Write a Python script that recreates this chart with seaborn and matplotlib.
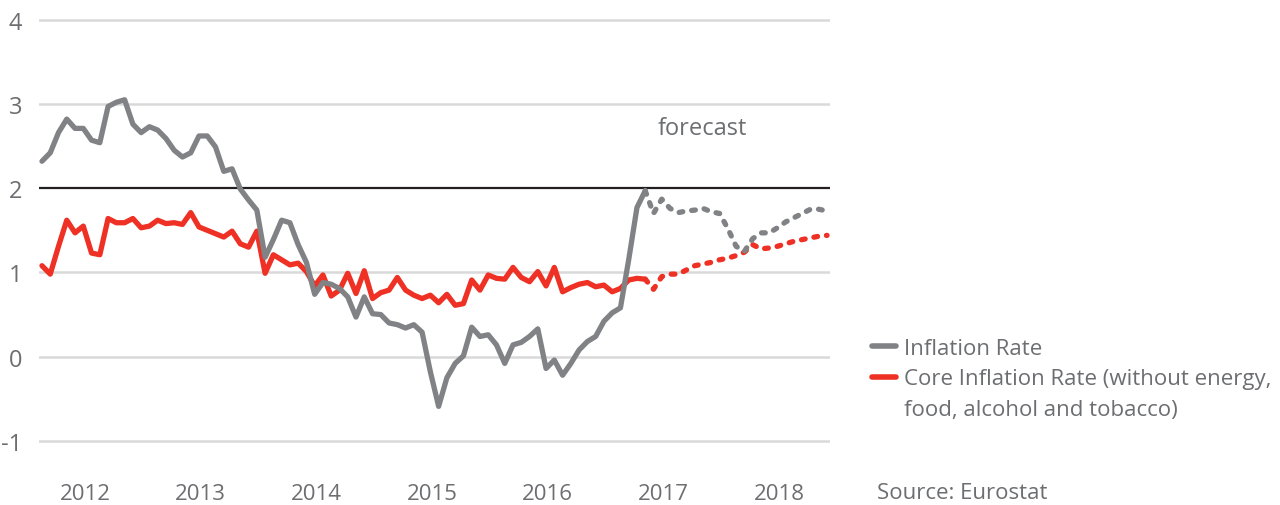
import numpy as np
import pandas as pd
import matplotlib
matplotlib.use('Agg')
import matplotlib.pyplot as plt
from matplotlib.lines import Line2D
import seaborn as sns

# Monatsdaten Jan 2011 - Feb 2017 (Ist), Feb 2017 - Dez 2018 (Prognose)
months = pd.date_range('2011-01-01', '2018-12-01', freq='MS')
n_actual = 74

inflation_actual = [
    2.32, 2.42, 2.66, 2.82, 2.71, 2.71, 2.57, 2.54, 2.97, 3.02, 3.05, 2.76,
    2.66, 2.73, 2.69, 2.59, 2.45, 2.37, 2.42, 2.62, 2.62, 2.49, 2.20, 2.23,
    1.99, 1.86, 1.74, 1.18, 1.39, 1.62, 1.59, 1.33, 1.12, 0.74, 0.88, 0.86,
    0.81, 0.71, 0.47, 0.71, 0.51, 0.50, 0.40, 0.38, 0.34, 0.38, 0.29, -0.18,
    -0.59, -0.25, -0.08, 0.01, 0.35, 0.24, 0.26, 0.14, -0.08, 0.14, 0.17, 0.24,
    0.33, -0.14, -0.04, -0.22, -0.08, 0.08, 0.18, 0.24, 0.42, 0.52, 0.58, 1.15,
    1.77, 1.97,
]
inflation_forecast = [
    1.97, 1.70, 1.87, 1.76, 1.71, 1.73, 1.74, 1.76, 1.72, 1.70, 1.52, 1.31,
    1.25, 1.40, 1.47, 1.47, 1.53, 1.60, 1.65, 1.70, 1.75, 1.75, 1.73,
]
core_actual = [
    1.08, 0.98, 1.31, 1.62, 1.47, 1.55, 1.23, 1.21, 1.64, 1.59, 1.59, 1.64,
    1.53, 1.55, 1.62, 1.58, 1.59, 1.57, 1.71, 1.54, 1.50, 1.46, 1.42, 1.49,
    1.34, 1.30, 1.49, 0.99, 1.21, 1.15, 1.09, 1.11, 1.01, 0.84, 0.97, 0.72,
    0.79, 0.99, 0.75, 1.02, 0.69, 0.76, 0.79, 0.94, 0.79, 0.73, 0.69, 0.73,
    0.64, 0.74, 0.61, 0.63, 0.91, 0.79, 0.97, 0.93, 0.92, 1.06, 0.94, 0.89,
    1.01, 0.84, 1.06, 0.77, 0.82, 0.86, 0.88, 0.83, 0.85, 0.77, 0.81, 0.91,
    0.93, 0.92,
]
core_forecast = [
    0.92, 0.80, 0.95, 0.98, 0.98, 1.03, 1.08, 1.10, 1.12, 1.15, 1.17, 1.20,
    1.24, 1.33, 1.28, 1.29, 1.31, 1.34, 1.37, 1.39, 1.41, 1.43, 1.44,
]
year_labels = ['2012', '2013', '2014', '2015', '2016', '2017', '2018']
y_ticks = [-1, 0, 1, 2, 3, 4]

GRAY = '#808285'
RED = '#ee3124'
TEXT = '#6d6e71'

idx = np.arange(len(months))
df_act = pd.DataFrame({'m': idx[:n_actual], 'infl': inflation_actual, 'core': core_actual})
df_fc = pd.DataFrame({'m': idx[n_actual - 1:], 'infl': inflation_forecast, 'core': core_forecast})

sns.set_theme(style='white')
plt.rcParams['font.family'] = ['Open Sans', 'DejaVu Sans']

fig = plt.figure(figsize=(12.8, 5.06), dpi=100)
ax = fig.add_axes([39 / 1280, 0.110, (830 - 39) / 1280, 0.8657])

lw = 3.8
dots = (0, (0.7, 1.7))
sns.lineplot(data=df_act, x='m', y='infl', ax=ax, color=GRAY, lw=lw,
             solid_capstyle='round', solid_joinstyle='round', zorder=4)
sns.lineplot(data=df_act, x='m', y='core', ax=ax, color=RED, lw=lw,
             solid_capstyle='round', solid_joinstyle='round', zorder=3)
sns.lineplot(data=df_fc, x='m', y='infl', ax=ax, color=GRAY, lw=lw,
             linestyle=dots, dash_capstyle='round', zorder=4)
sns.lineplot(data=df_fc, x='m', y='core', ax=ax, color=RED, lw=lw,
             linestyle=dots, dash_capstyle='round', zorder=3)

# Gitterlinien
for v in y_ticks:
    if v == 2:
        ax.axhline(v, color='#231f20', lw=1.6, zorder=2)
    else:
        ax.axhline(v, color='#d9d9d9', lw=1.8, zorder=1)

ax.set_xlim(-0.36, 95.36)
ax.set_ylim(-1.1, 4.1)
ax.set_yticks(y_ticks)
ax.set_yticklabels([str(v) for v in y_ticks])
ax.set_xticks([5.2 + 14 * k for k in range(len(year_labels))])
ax.set_xticklabels(year_labels)
ax.tick_params(axis='y', length=0, pad=12, labelsize=17, labelcolor=TEXT)
ax.tick_params(axis='x', length=0, pad=24, labelsize=16, labelcolor=TEXT)
ax.set_xlabel('')
ax.set_ylabel('')
for s in ax.spines.values():
    s.set_visible(False)

ax.text(79.9, 2.72, 'forecast', ha='center', va='center', fontsize=17, color=TEXT)

handles = [
    Line2D([], [], color=GRAY, lw=4, solid_capstyle='round'),
    Line2D([], [], color=RED, lw=4, solid_capstyle='round'),
    Line2D([], [], color='none'),
]
labels = ['Inflation Rate', 'Core Inflation Rate (without energy,', 'food, alcohol and tobacco)']
leg = fig.legend(handles, labels, loc='upper left', bbox_to_anchor=(872 / 1280, 1 - 339 / 506),
                 frameon=False, fontsize=16, handlelength=1.1, handletextpad=0.35,
                 labelspacing=0.42, borderaxespad=0, borderpad=0)
for t in leg.get_texts():
    t.set_color(TEXT)

fig.text(877 / 1280, 12 / 506, 'Source: Eurostat', ha='left', va='center', fontsize=16, color=TEXT)

fig.savefig('out.png', dpi=100)
